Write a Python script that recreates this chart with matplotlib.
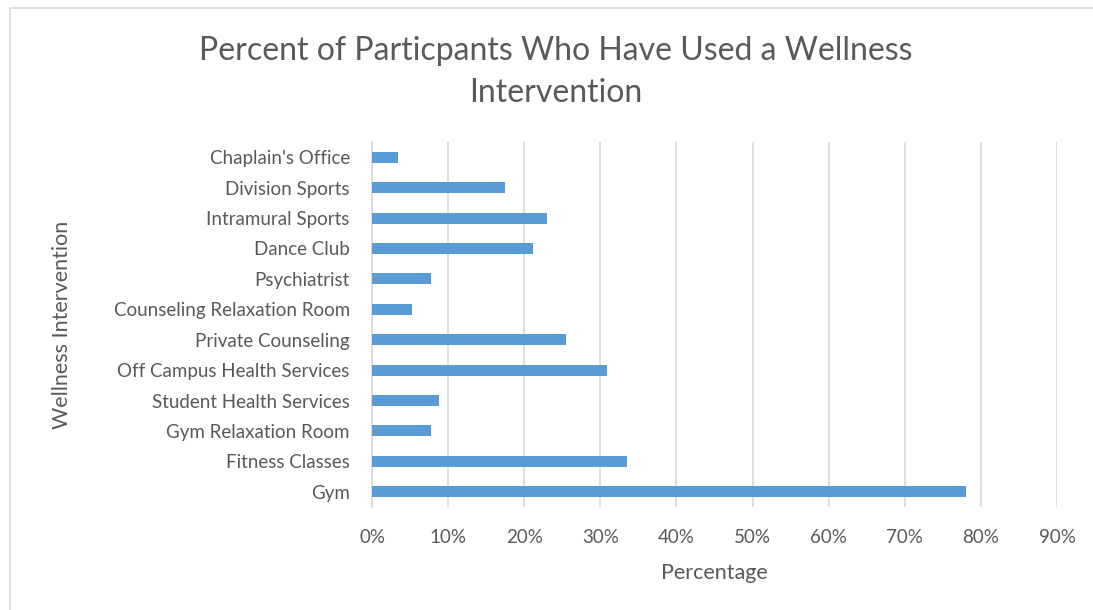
import matplotlib.pyplot as plt
from matplotlib.patches import Rectangle
from matplotlib.ticker import PercentFormatter

# Categories listed top to bottom as in the chart
categories = ["Chaplain's Office", "Division Sports", "Intramural Sports", "Dance Club",
              "Psychiatrist", "Counseling Relaxation Room", "Private Counseling",
              "Off Campus Health Services", "Student Health Services",
              "Gym Relaxation Room", "Fitness Classes", "Gym"]
percent_used = [3.4, 17.5, 23.0, 21.1, 7.8, 5.2, 25.5, 30.9, 8.8, 7.8, 33.5, 78.0]
x_ticks = [0, 10, 20, 30, 40, 50, 60, 70, 80, 90]

plt.rcParams['font.family'] = ['Lato', 'DejaVu Sans']

fig = plt.figure(figsize=(10.93, 6.10), dpi=100)
fig.patches.append(Rectangle((10 / 1093, -0.01), 1.1, (610 - 8) / 610 + 0.01,
                             transform=fig.transFigure, fill=False,
                             edgecolor='#D9D9D9', linewidth=1.2))

ax = fig.add_axes([372 / 1093, 103 / 610, (1057 - 372) / 1093, 365 / 610])

ypos = list(range(len(categories)))
ax.barh(ypos, percent_used, height=0.36, color='#5B9BD5', zorder=3)
ax.set_ylim(len(categories) - 0.5, -0.5)
ax.set_yticks(ypos)
ax.set_yticklabels(categories)

ax.set_xlim(0, 90)
ax.set_xticks(x_ticks)
ax.xaxis.set_major_formatter(PercentFormatter(decimals=0))
ax.grid(axis='x', color='#D9D9D9', linewidth=1.2, zorder=0)

for side in ['top', 'right', 'bottom']:
    ax.spines[side].set_visible(False)
ax.spines['left'].set_color('#D9D9D9')
ax.spines['left'].set_linewidth(1.2)
ax.tick_params(length=0, labelsize=13.5, colors='#595959')
ax.tick_params(axis='y', pad=16)
ax.tick_params(axis='x', pad=16)

ax.set_xlabel("Percentage", fontsize=15.5, color='#595959', labelpad=12)
ax.set_ylabel("Wellness Intervention", fontsize=15.5, color='#595959', labelpad=30)

fig.text(556 / 1093, 1 - 72 / 610,
         "Percent of Particpants Who Have Used a Wellness\nIntervention",
         ha='center', va='center', fontsize=23, color='#595959', linespacing=1.5)

fig.savefig("out.png", dpi=100)
